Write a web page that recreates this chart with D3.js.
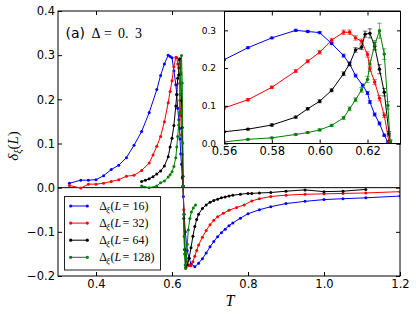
<!DOCTYPE html>
<html><head><meta charset="utf-8">
<script src="https://cdn.jsdelivr.net/npm/d3@7"></script>
<style>body{margin:0;background:#fff}svg{display:block}</style>
</head><body>
<svg id="c" width="416" height="315"></svg>
<script>
// ---------------- data ----------------
const T16=[0.33,0.36,0.38,0.40,0.42,0.44,0.46,0.48,0.50,0.52,0.54,
 0.56,0.57,0.58,0.59,0.595,0.60,0.605,0.61,0.6125,0.615,0.618,0.62,0.621,0.623,0.625,0.627,0.6285,
 0.63,0.632,0.635,0.64,0.645,0.65,0.66,0.67,0.68,0.69,0.70,0.71,0.72,0.73,0.74,0.75,0.76,0.78,0.80,0.83,0.86,0.90,0.95,1.00,1.05,1.11,1.20];
const d16=[0.010,0.017,0.017,0.018,0.027,0.041,0.051,0.068,0.096,0.127,0.170,
 0.222,0.254,0.280,0.300,0.297,0.294,0.265,0.233,0.211,0.180,0.154,0.134,0.110,0.077,0.053,0.022,0.004,
 -0.020,-0.060,-0.100,-0.142,-0.160,-0.172,-0.179,-0.171,-0.161,-0.148,-0.134,-0.122,-0.111,-0.102,-0.094,-0.086,-0.080,-0.069,-0.059,-0.050,-0.043,-0.036,-0.031,-0.027,-0.025,-0.023,-0.019];
const e16=[0,0,0,0,0,0,0,0,0,0,0,
 0.002,0.002,0.002,0.003,0.003,0.003,0.003,0.004,0.004,0.004,0.004,0.004,0.004,0.004,0.004,0.003,0.003,
 0,0,0,0,0,0,0,0,0,0,0,0,0,0,0,0,0,0,0,0,0,0,0,0,0,0,0];

const T32=[0.33,0.36,0.38,0.40,0.42,0.44,0.46,0.48,0.50,0.52,0.54,0.55,
 0.56,0.57,0.58,0.59,0.595,0.60,0.605,0.61,0.6125,0.615,0.6175,0.62,0.621,0.623,0.625,0.627,0.629,
 0.631,0.633,0.636,0.64,0.645,0.65,0.655,0.66,0.665,0.67,0.68,0.69,0.70,0.71,0.72,0.735,0.75,0.77,0.79,0.81,0.83,0.86,0.90,0.95,1.00,1.05,1.11,1.20];
const d32=[0.005,-0.001,0.008,0.008,0.010,0.014,0.018,0.026,0.028,0.039,0.056,0.074,
 0.094,0.116,0.149,0.192,0.218,0.242,0.274,0.295,0.295,0.280,0.271,0.236,0.198,0.163,0.120,0.075,0.003,
 -0.050,-0.110,-0.150,-0.168,-0.176,-0.177,-0.168,-0.155,-0.142,-0.130,-0.112,-0.097,-0.084,-0.074,-0.066,-0.058,-0.051,-0.045,-0.039,-0.030,-0.025,-0.020,-0.017,-0.015,-0.014,-0.013,-0.012,-0.009];
const e32=[0,0,0,0,0,0,0,0,0,0,0,0,
 0.003,0.003,0.003,0.004,0.004,0.005,0.005,0.006,0.006,0.006,0.006,0.007,0.007,0.007,0.007,0.006,0.005,
 0,0,0,0,0,0,0,0,0,0,0,0,0,0,0,0,0,0,0,0,0,0,0,0,0,0,0,0];

const T64=[0.52,0.53,0.54,0.55,
 0.56,0.57,0.58,0.59,0.595,0.60,0.605,0.61,0.6125,0.615,0.6175,0.619,0.621,0.623,0.625,0.627,0.629,0.6295,
 0.631,0.633,0.6365,0.64,0.645,0.65,0.655,0.66,0.665,0.67,0.68,0.69,0.70,0.71,0.72,0.73,0.74,0.75,0.76,0.78,0.80,0.81,0.83,0.86,0.90,0.95,1.00,1.05,1.11];
const d64=[0.014,0.017,0.020,0.025,
 0.031,0.038,0.049,0.070,0.092,0.112,0.141,0.185,0.211,0.248,0.255,0.290,0.292,0.258,0.197,0.136,0.026,0.004,
 -0.070,-0.140,-0.180,-0.175,-0.160,-0.136,-0.110,-0.088,-0.072,-0.060,-0.047,-0.039,-0.033,-0.029,-0.026,-0.023,-0.021,-0.019,-0.017,-0.015,-0.013,-0.013,-0.012,-0.011,-0.008,-0.005,-0.009,-0.008,-0.004];
const e64=[0,0,0,0,
 0.002,0.002,0.003,0.003,0.003,0.004,0.004,0.005,0.005,0.006,0.006,0.008,0.012,0.010,0.012,0.010,0.006,0.004,
 0,0,0,0,0,0,0,0,0,0,0,0,0,0,0,0,0,0,0,0,0,0,0,0,0,0,0,0,0];

const T128=[0.52,0.54,
 0.56,0.57,0.58,0.59,0.595,0.60,0.605,0.61,0.6125,0.615,0.6175,0.62,0.621,0.623,0.625,0.627,0.6285,0.6295,
 0.631,0.632,0.633,0.6345,0.636,0.638,0.64,0.643,0.647,0.651,0.656,0.662];
const d128=[0.004,0.000,
 0.004,0.011,0.015,0.024,0.029,0.036,0.048,0.068,0.092,0.116,0.142,0.170,0.211,0.261,0.299,0.237,0.101,0.004,
 -0.060,-0.110,-0.150,-0.175,-0.183,-0.160,-0.128,-0.095,-0.070,-0.055,-0.046,-0.039];
const e128=[0,0,
 0.002,0.002,0.002,0.002,0.002,0.003,0.003,0.004,0.005,0.005,0.006,0.008,0.010,0.012,0.020,0.014,0.010,0.006,
 0,0,0,0,0,0,0,0,0,0,0,0];

const sizes=["16","32","64","128"];
const colors=["#0000ff","#ff0000","#000000","#008000"];
const xTicks=[0.4,0.6,0.8,1.0,1.2];
const yTicks=[-0.2,-0.1,0.0,0.1,0.2,0.3,0.4];
const insetXTicks=[0.56,0.58,0.60,0.62];
const insetYTicks=[0.0,0.1,0.2,0.3];

const series=[[T16,d16,e16],[T32,d32,e32],[T64,d64,e64],[T128,d128,e128]].map((s,i)=>({
  color:colors[i], size:sizes[i],
  pts:s[0].map((t,j)=>({t, v:s[1][j], e:s[2][j]}))
}));

// ---------------- layout ----------------
const svg=d3.select("#c");
const M={l:58,r:400,t:11,b:276};
const x=d3.scaleLinear().domain([0.3,1.2]).range([M.l,M.r]);
const y=d3.scaleLinear().domain([-0.2,0.4]).range([M.b,M.t]);
const sans="'DejaVu Sans', sans-serif", serif="'Liberation Serif','DejaVu Serif', serif";

const defs=svg.append("defs");
defs.append("clipPath").attr("id","clipMain").append("rect")
  .attr("x",M.l).attr("y",M.t).attr("width",M.r-M.l).attr("height",M.b-M.t);

function styleAxis(g,fs){
  g.select(".domain").remove();
  g.selectAll("line").attr("stroke","#000");
  g.selectAll("text").attr("font-family",sans).attr("font-size",fs).attr("fill","#000");
}
svg.append("g").attr("transform",`translate(0,${M.b})`)
  .call(d3.axisBottom(x).tickValues(xTicks).tickSize(-4).tickPadding(4).tickFormat(d3.format(".1f")))
  .call(g=>styleAxis(g,11.5));
svg.append("g").attr("transform",`translate(0,${M.t})`)
  .call(d3.axisTop(x).tickValues(xTicks).tickSize(-4).tickFormat(""))
  .call(g=>styleAxis(g,11.5));
svg.append("g").attr("transform",`translate(${M.l},0)`)
  .call(d3.axisLeft(y).tickValues(yTicks).tickSize(-4).tickPadding(3).tickFormat(d3.format(".1f")))
  .call(g=>styleAxis(g,11.5));
svg.append("g").attr("transform",`translate(${M.r},0)`)
  .call(d3.axisRight(y).tickValues(yTicks).tickSize(-4).tickFormat(""))
  .call(g=>styleAxis(g,11.5));

svg.append("line").attr("x1",M.l).attr("x2",M.r).attr("y1",y(0)).attr("y2",y(0))
  .attr("stroke","#000").attr("stroke-width",1);

const gMain=svg.append("g").attr("clip-path","url(#clipMain)");
const lineMain=d3.line().x(d=>x(d.t)).y(d=>y(d.v));
series.forEach(s=>{
  gMain.append("path").attr("d",lineMain(s.pts)).attr("fill","none")
    .attr("stroke",s.color).attr("stroke-width",1);
  gMain.selectAll(null).data(s.pts).join("circle")
    .attr("cx",d=>x(d.t)).attr("cy",d=>y(d.v)).attr("r",1.5).attr("fill",s.color);
});

svg.append("rect").attr("x",M.l).attr("y",M.t).attr("width",M.r-M.l).attr("height",M.b-M.t)
  .attr("fill","none").attr("stroke","#000").attr("stroke-width",1);

// annotation
const ann=svg.append("text").attr("y",37.5).attr("font-size",14).attr("fill","#000");
ann.append("tspan").attr("x",65.5).attr("font-family",sans).text("(a)");
ann.append("tspan").attr("x",91.5).attr("font-family",serif).text("Δ");
ann.append("tspan").attr("x",104).attr("font-family",serif).text("=");
ann.append("tspan").attr("x",118).attr("font-family",serif).text("0.");
ann.append("tspan").attr("x",135).attr("font-family",serif).text("3");

// legend
const lg=svg.append("g");
lg.append("rect").attr("x",64.5).attr("y",196.5).attr("width",96).attr("height",73.5)
  .attr("fill","#fff").attr("stroke","#222").attr("stroke-width",1);
series.forEach((s,i)=>{
  const yy=206+i*17.1;
  lg.append("line").attr("x1",70.7).attr("x2",87.3).attr("y1",yy).attr("y2",yy)
    .attr("stroke",s.color).attr("stroke-width",1);
  [70.7,87.3].forEach(cx=>lg.append("circle").attr("cx",cx).attr("cy",yy).attr("r",1.6).attr("fill",s.color));
  const t=lg.append("text").attr("y",yy+4).attr("font-family",serif).attr("font-size",12).attr("fill","#000");
  t.append("tspan").attr("x",99.3).text("Δ");
  t.append("tspan").attr("x",106.3).attr("dy",3).attr("font-size",8.5).attr("font-style","italic").text("ξ");
  t.append("tspan").attr("x",110.5).attr("dy",-3).text("(");
  t.append("tspan").attr("font-style","italic").text("L");
  t.append("tspan").attr("x",122.5).text("=");
  t.append("tspan").attr("x",132.5).text(s.size+")");
});

svg.append("text").attr("x",230).attr("y",306).attr("text-anchor","middle")
  .attr("font-family",serif).attr("font-style","italic").attr("font-size",16).text("T");
const yl=svg.append("text").attr("transform","translate(18,146) rotate(-90)")
  .attr("text-anchor","middle").attr("font-family",serif).attr("font-size",15);
yl.append("tspan").attr("font-style","italic").text("δ");
yl.append("tspan").attr("font-style","italic").attr("font-size",10).attr("dy",3).text("ξ");
yl.append("tspan").attr("dy",-3).text("(");
yl.append("tspan").attr("font-style","italic").text("L");
yl.append("tspan").text(")");

// ---------------- inset ----------------
const I={l:224,r:401,t:11.5,b:143.5};
const xi=d3.scaleLinear().domain([0.56,0.634]).range([I.l,I.r]);
const yi=d3.scaleLinear().domain([0,0.35]).range([I.b,I.t]);
defs.append("clipPath").attr("id","clipIn").append("rect")
  .attr("x",I.l).attr("y",I.t).attr("width",I.r-I.l).attr("height",I.b-I.t);
const gi=svg.append("g");
gi.append("rect").attr("x",I.l).attr("y",I.t).attr("width",I.r-I.l).attr("height",I.b-I.t).attr("fill","#fff");
const gic=gi.append("g").attr("clip-path","url(#clipIn)");
const lineIn=d3.line().x(d=>xi(d.t)).y(d=>yi(d.v));
series.forEach(s=>{
  gic.append("path").attr("d",lineIn(s.pts)).attr("fill","none").attr("stroke",s.color).attr("stroke-width",1);
  const eb=s.pts.filter(d=>d.e>0);
  gic.selectAll(null).data(eb).join("path")
    .attr("d",d=>{const cx=xi(d.t),y1=yi(d.v+d.e),y2=yi(d.v-d.e);
      return `M${cx},${y1}V${y2}M${cx-2.2},${y1}H${cx+2.2}M${cx-2.2},${y2}H${cx+2.2}`;})
    .attr("stroke",s.color).attr("stroke-width",1).attr("fill","none").attr("opacity",0.6);
  gic.selectAll(null).data(s.pts).join("circle")
    .attr("cx",d=>xi(d.t)).attr("cy",d=>yi(d.v)).attr("r",1.7).attr("fill",s.color);
});
gi.append("g").attr("transform",`translate(0,${I.b})`)
  .call(d3.axisBottom(xi).tickValues(insetXTicks).tickSize(-4).tickPadding(3).tickFormat(d3.format(".2f")))
  .call(g=>styleAxis(g,11.5));
gi.append("g").attr("transform",`translate(0,${I.t})`)
  .call(d3.axisTop(xi).tickValues(insetXTicks).tickSize(-4).tickFormat(""))
  .call(g=>styleAxis(g,11.5));
gi.append("g").attr("transform",`translate(${I.l},0)`)
  .call(d3.axisLeft(yi).tickValues(insetYTicks).tickSize(-4).tickPadding(8).tickFormat(d3.format(".1f")))
  .call(g=>styleAxis(g,9));
gi.append("g").attr("transform",`translate(${I.r},0)`)
  .call(d3.axisRight(yi).tickValues(insetYTicks).tickSize(-4).tickFormat(""))
  .call(g=>styleAxis(g,9));
gi.append("rect").attr("x",I.l+0.5).attr("y",I.t).attr("width",I.r-I.l-1).attr("height",I.b-I.t)
  .attr("fill","none").attr("stroke","#000").attr("stroke-width",1);
</script>
</body></html>
